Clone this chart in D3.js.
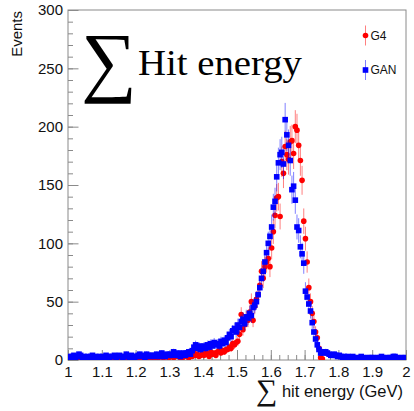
<!DOCTYPE html>
<html>
<head>
<meta charset="utf-8">
<script src="https://cdn.jsdelivr.net/npm/d3@7"></script>
<style>
  body { margin: 0; background: #fff; }
  svg { display: block; }
</style>
</head>
<body>
<svg id="chart" width="414" height="411"></svg>
<script>
// Histogram binning: 200 bins of width 0.005 GeV starting at 1.0 GeV
const binLow = 1.0;
const binWidth = 0.005;

// Per-bin event counts, Geant4 simulation
const g4Counts = [
  1,2,1,0,1,2,1,1,0,1,   2,1,1,2,0,1,2,1,1,2,
  1,2,1,1,2,1,0,2,1,1,   2,1,2,3,1,2,1,2,3,2,
  2,3,1,2,3,2,2,3,1,2,   3,2,3,2,4,3,2,3,4,2,
  3,4,2,3,4,3,2,1,3,4,   3,2,4,3,6,4,5,3,4,5,
  4,6,5,3,7,5,6,4,7,8,   6,8,7,9,9,11,10,14,13,15,
  16,22,39,26,30,36,34,41,50,34,   46,52,56,64,76,70,80,84,87,80,
  96,110,124,139,140,123,170,160,183,176,   172,187,188,177,200,197,184,171,154,119,
  104,84,62,50,40,33,24,19,10,2,   1,0,0,0,0,0,0,0,0,0,
  0,0,0,0,0,0,0,0,0,0,   0,0,0,0,0,0,0,0,0,0,
  0,0,0,0,0,0,0,0,0,0,   0,0,0,0,0,0,0,0,0,0
];

// Per-bin event counts, GAN generated showers
const ganCounts = [
  3,2,3,4,2,3,5,4,2,3,   2,3,2,3,4,2,3,2,3,2,
  3,2,4,3,2,3,3,4,2,3,   4,3,2,3,5,3,2,4,3,2,
  3,4,5,3,4,2,5,4,3,4,   4,3,5,4,3,6,4,3,5,4,
  5,4,7,5,4,6,3,5,6,4,   6,7,5,8,11,13,10,12,9,11,
  12,10,13,11,14,12,15,13,14,12,   16,14,17,15,19,22,20,25,27,24,
  30,28,33,35,31,37,36,40,38,45,   47,50,56,62,70,76,84,92,100,106,
  114,131,136,157,169,176,178,168,206,193,   184,171,146,149,137,114,111,97,91,83,
  59,54,48,42,32,24,18,13,9,6,   7,6,7,6,5,4,4,5,4,3,
  4,3,2,3,2,3,2,2,3,2,   2,1,2,3,2,2,1,2,2,2,
  2,2,1,2,2,3,2,1,2,2,   2,2,3,3,2,2,1,2,2,2
];

const seriesNames = ["G4", "GAN"];
const seriesColors = ["#ff0000", "#0000ff"];

const xTickValues = [1, 1.1, 1.2, 1.3, 1.4, 1.5, 1.6, 1.7, 1.8, 1.9, 2];
const xTickLabels = ["1", "1.1", "1.2", "1.3", "1.4", "1.5", "1.6", "1.7", "1.8", "1.9", "2"];
const yTickValues = [0, 50, 100, 150, 200, 250, 300];
const yTickLabels = ["0", "50", "100", "150", "200", "250", "300"];

const frame = { left: 68, right: 406, top: 10, bottom: 360 };

const svg = d3.select("#chart");

const x = d3.scaleLinear().domain([1, 2]).range([frame.left, frame.right]);
const y = d3.scaleLinear().domain([0, 300]).range([frame.bottom, frame.top]);

const axisColor = "#8a8a8a";
const labelFont = "'Liberation Sans', Arial, Helvetica, sans-serif";
const serifFont = "'Liberation Serif', 'Times New Roman', serif";

// Frame
svg.append("rect")
  .attr("x", frame.left).attr("y", frame.top)
  .attr("width", frame.right - frame.left).attr("height", frame.bottom - frame.top)
  .attr("fill", "none").attr("stroke", axisColor).attr("stroke-width", 1);

// Minor ticks (inside the frame)
const xMinor = d3.range(0, 41).map(i => 1 + i * 0.025);
svg.append("g")
  .attr("transform", `translate(0,${frame.bottom})`)
  .call(d3.axisBottom(x).tickValues(xMinor).tickSize(-5).tickFormat(""))
  .call(g => g.select(".domain").remove())
  .call(g => g.selectAll("line").attr("stroke", axisColor));

const yMinor = d3.range(0, 31).map(i => i * 10);
svg.append("g")
  .attr("transform", `translate(${frame.left},0)`)
  .call(d3.axisLeft(y).tickValues(yMinor).tickSize(-5).tickFormat(""))
  .call(g => g.select(".domain").remove())
  .call(g => g.selectAll("line").attr("stroke", axisColor));

// Major ticks and labels
svg.append("g")
  .attr("transform", `translate(0,${frame.bottom})`)
  .call(d3.axisBottom(x).tickValues(xTickValues).tickSize(-10).tickPadding(6)
    .tickFormat((d, i) => xTickLabels[i]))
  .call(g => g.select(".domain").remove())
  .call(g => g.selectAll("line").attr("stroke", axisColor))
  .call(g => g.selectAll("text").attr("fill", "#111").style("font-family", labelFont).style("font-size", "15px"));

svg.append("g")
  .attr("transform", `translate(${frame.left},0)`)
  .call(d3.axisLeft(y).tickValues(yTickValues).tickSize(-10.5).tickPadding(5)
    .tickFormat((d, i) => yTickLabels[i]))
  .call(g => g.select(".domain").remove())
  .call(g => g.selectAll("line").attr("stroke", axisColor))
  .call(g => g.selectAll("text").attr("fill", "#111").style("font-family", labelFont).style("font-size", "15px"));

// Axis titles
svg.append("text")
  .attr("transform", `translate(22,${frame.top + 1}) rotate(-90)`)
  .attr("text-anchor", "end")
  .style("font-family", labelFont).style("font-size", "15px").attr("fill", "#111")
  .text("Events");

svg.append("text")
  .attr("x", 256).attr("y", 400)
  .style("font-family", serifFont).style("font-size", "30px").attr("fill", "#111")
  .text("∑");
svg.append("text")
  .attr("x", 403).attr("y", 397)
  .attr("text-anchor", "end")
  .style("font-family", labelFont).style("font-size", "16.5px").attr("fill", "#111")
  .text("hit energy (GeV)");

// Big caption
svg.append("text")
  .attr("x", 81).attr("y", 87)
  .style("font-family", serifFont).style("font-size", "78px").attr("fill", "#000")
  .text("∑");
svg.append("text")
  .attr("x", 138).attr("y", 75)
  .attr("textLength", 164).attr("lengthAdjust", "spacingAndGlyphs")
  .style("font-family", serifFont).style("font-size", "36px").attr("fill", "#000")
  .text("Hit energy");

// Data layers
svg.append("clipPath").attr("id", "plotClip")
  .append("rect").attr("x", frame.left).attr("y", frame.top)
  .attr("width", frame.right - frame.left).attr("height", frame.bottom - frame.top);
const plot = svg.append("g").attr("clip-path", "url(#plotClip)");

function binsOf(counts) {
  return counts.map((c, i) => ({ x: binLow + (i + 0.5) * binWidth, v: c, e: Math.sqrt(c) }))
    .filter(d => d.v > 0);
}

const series = [
  { name: seriesNames[0], color: seriesColors[0], shape: "circle", bins: binsOf(g4Counts) },
  { name: seriesNames[1], color: seriesColors[1], shape: "square", bins: binsOf(ganCounts) }
];

const markerSize = 5.6;

series.forEach(s => {
  const g = plot.append("g");
  g.selectAll("line.err").data(s.bins).join("line")
    .attr("class", "err")
    .attr("x1", d => x(d.x)).attr("x2", d => x(d.x))
    .attr("y1", d => y(d.v - d.e)).attr("y2", d => y(d.v + d.e))
    .attr("stroke", s.color).attr("stroke-opacity", 0.5).attr("stroke-width", 1);
  if (s.shape === "circle") {
    g.selectAll("circle").data(s.bins).join("circle")
      .attr("cx", d => x(d.x)).attr("cy", d => y(d.v))
      .attr("r", markerSize / 2).attr("fill", s.color);
  } else {
    g.selectAll("rect").data(s.bins).join("rect")
      .attr("x", d => x(d.x) - markerSize / 2).attr("y", d => y(d.v) - markerSize / 2)
      .attr("width", markerSize).attr("height", markerSize).attr("fill", s.color);
  }
});

// Legend
const legend = svg.append("g");
series.forEach((s, i) => {
  const ly = 35.5 + i * 34.5, lx = 365.5;
  const lg = legend.append("g");
  lg.append("line").attr("x1", lx).attr("x2", lx).attr("y1", ly - 10).attr("y2", ly + 10)
    .attr("stroke", s.color).attr("stroke-opacity", 0.5);
  if (s.shape === "circle") {
    lg.append("circle").attr("cx", lx).attr("cy", ly).attr("r", markerSize / 2).attr("fill", s.color);
  } else {
    lg.append("rect").attr("x", lx - markerSize / 2).attr("y", ly - markerSize / 2)
      .attr("width", markerSize).attr("height", markerSize).attr("fill", s.color);
  }
  lg.append("text").attr("x", lx + 5).attr("y", ly + 4)
    .style("font-family", labelFont).style("font-size", "12px").attr("fill", "#111")
    .text(s.name);
});
</script>
</body>
</html>
